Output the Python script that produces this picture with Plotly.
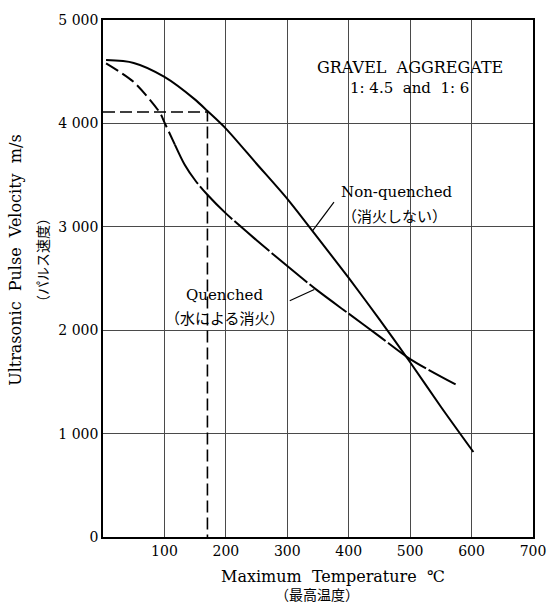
import plotly.graph_objects as go

# Maximum temperature (°C) and ultrasonic pulse velocity (m/s)
nonq_temp = [5, 50, 100, 150, 170, 200, 250, 300, 350, 400, 450, 500, 550, 603]
nonq_vel = [4612, 4585, 4450, 4230, 4120, 3950, 3610, 3270, 2890, 2505, 2105, 1690, 1260, 822]

# Quenched series: dashed early part, then the main curve
q_dash_temp = [5, 50, 93, 100, 117]
q_dash_vel = [4580, 4400, 4100, 4010, 3795]
q_temp = [117, 133, 150, 170, 200, 250, 300, 350, 400, 450, 500, 574]
q_vel = [3795, 3600, 3450, 3310, 3130, 2870, 2620, 2380, 2160, 1940, 1720, 1475]

# Reading guide for 4 100 m/s
guide_temp = 170
guide_vel = 4110

x_ticks = [100, 200, 300, 400, 500, 600, 700]
y_ticks = [0, 1000, 2000, 3000, 4000, 5000]
y_tick_text = ["0", "1 000", "2 000", "3 000", "4 000", "5 000"]

# Leader lines from the curve labels to the curves
nonq_leader = [(376, 3238), (341, 2960)]
q_leader = [(304, 2285), (344, 2393)]

SERIF = "DejaVu Serif, Liberation Serif, serif"
CJK = "DejaVu Serif, Noto Sans CJK JP, sans-serif"

fig = go.Figure()

fig.add_trace(go.Scatter(
    x=[0, guide_temp, guide_temp], y=[guide_vel, guide_vel, 0],
    mode="lines", line=dict(color="black", width=1.6, dash="12px,5px"),
    hoverinfo="skip", showlegend=False))

fig.add_trace(go.Scatter(
    x=nonq_temp, y=nonq_vel, mode="lines", line_shape="spline",
    line=dict(color="black", width=2, smoothing=0.8), showlegend=False))

fig.add_trace(go.Scatter(
    x=q_dash_temp, y=q_dash_vel, mode="lines", line_shape="spline",
    line=dict(color="black", width=2, dash="14px,5px", smoothing=0.8),
    showlegend=False))

fig.add_trace(go.Scatter(
    x=q_temp, y=q_vel, mode="lines", line_shape="spline",
    line=dict(color="black", width=2, dash="46px,3px", smoothing=0.8),
    showlegend=False))

for (x0, y0), (x1, y1) in (nonq_leader, q_leader):
    fig.add_shape(type="line", xref="x", yref="y", x0=x0, y0=y0, x1=x1, y1=y1,
                  line=dict(color="black", width=1.2))

def note(x, y, text, size=15, font=SERIF, **kw):
    fig.add_annotation(x=x, y=y, text=text, showarrow=False,
                       xanchor="center", yanchor="middle",
                       font=dict(family=font, size=size, color="black"), **kw)

note(499, 4541, "GRAVEL  AGGREGATE", size=16)
note(499, 4340, "1: 4.5  and  1: 6", size=15)
note(479, 3337, "Non-quenched", size=15)
note(474, 3098, "（消火しない）", size=15, font=CJK)
note(197, 2342, "Quenched", size=15)
note(198, 2113, "（水による消火）", size=15, font=CJK)

note(-0.2036, 0.535, "Ultrasonic  Pulse  Velocity  m/s", size=16,
     xref="paper", yref="paper", textangle=-90)
note(-0.138, 0.535, "（パルス速度）", size=14, font=CJK,
     xref="paper", yref="paper", textangle=-90)
note(0.536, -0.0765, "Maximum  Temperature  ℃", size=16,
     xref="paper", yref="paper")
note(0.498, -0.113, "（最高温度）", size=14, font=CJK,
     xref="paper", yref="paper")

axis_common = dict(showline=True, mirror=True, linecolor="black", linewidth=1.6,
                   showgrid=True, gridcolor="#4a4a4a", gridwidth=1,
                   zeroline=False, ticks="",
                   tickfont=dict(family=SERIF, size=14, color="black"))

fig.update_xaxes(range=[0, 700], tickvals=x_ticks, **axis_common)
fig.update_yaxes(range=[0, 5000], tickvals=y_ticks, ticktext=y_tick_text,
                 **axis_common)

fig.update_layout(
    width=558, height=608,
    margin=dict(l=103, r=13, t=14, b=71),
    paper_bgcolor="white", plot_bgcolor="white",
    showlegend=False,
)

fig.write_html("out.html")
